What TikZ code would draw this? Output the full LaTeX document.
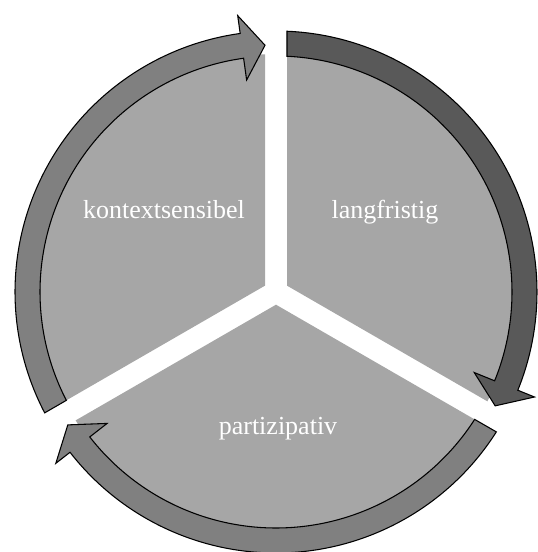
\documentclass[tikz,border=0pt]{standalone}
\usepackage{fontspec}
\setmainfont{Liberation Serif}
\usetikzlibrary{positioning}
\definecolor{segfill}{HTML}{A6A6A6}
\definecolor{arrowmid}{HTML}{808080}
\definecolor{arrowdark}{HTML}{595959}
\tikzstyle{segment}=[fill=segfill,draw=none]
\tikzstyle{ringarrow}=[draw=black,line width=0.8pt,line join=miter]
\tikzstyle{seglabel}=[text=white,inner sep=0pt,anchor=base,font=\fontsize{19.5}{23}\selectfont]

\begin{document}
\begin{tikzpicture}[x=0.75pt,y=0.75pt]
\useasboundingbox (-276,-260) rectangle (261,292);
% three pie segments with white gaps
\path [segment] (30:12.7) -- (87.35:238) arc[start angle=87.35,end angle=-27.35,radius=238] -- cycle;
\path [segment] (150:12.7) -- (207.35:238) arc[start angle=207.35,end angle=92.65,radius=238] -- cycle;
\path [segment] (270:12.7) -- (327.35:238) arc[start angle=327.35,end angle=212.65,radius=238] -- cycle;
% curved arrows round the ring
\draw [ringarrow,fill=arrowdark] (87.59:261) arc[start angle=87.59,end angle=-22.11,radius=261]
  -- (-22.11:279) -- (-27.45:247) -- (-22.11:214) -- (-22.11:236)
  arc[start angle=-22.11,end angle=87.33,radius=236] -- cycle;
\draw [ringarrow,fill=arrowmid] (207.59:261) arc[start angle=207.59,end angle=97.89,radius=261]
  -- (97.89:279) -- (92.55:247) -- (97.89:214) -- (97.89:236)
  arc[start angle=97.89,end angle=207.33,radius=236] -- cycle;
\draw [ringarrow,fill=arrowmid] (327.59:261) arc[start angle=327.59,end angle=217.89,radius=261]
  -- (217.89:279) -- (212.55:247) -- (217.89:214) -- (217.89:236)
  arc[start angle=217.89,end angle=327.33,radius=236] -- cycle;
% labels
\node (kontext) [seglabel] at (-112,73.5) {kontextsensibel};
\node (lang) [seglabel] at (109,73.5) {langfristig};
\node (partizip) [seglabel] at (2,-142) {partizipativ};
\end{tikzpicture}
\end{document}
